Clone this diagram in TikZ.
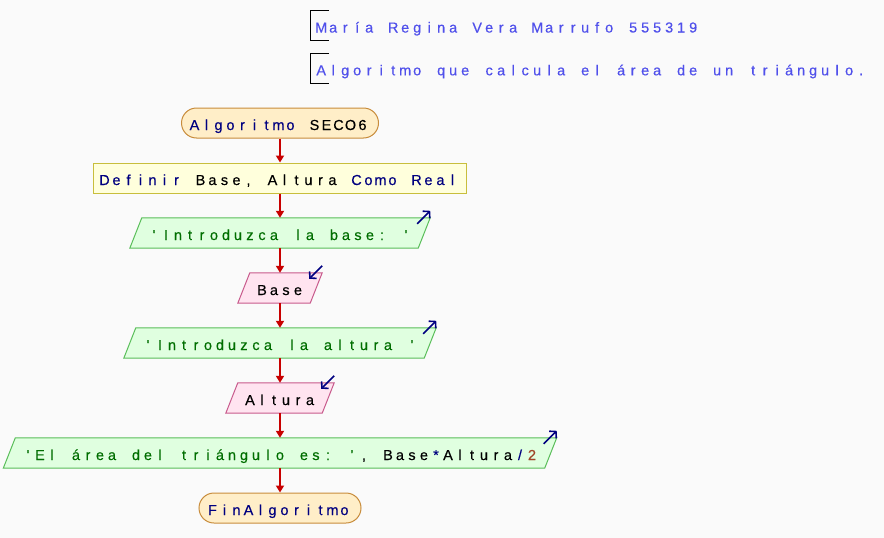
\documentclass[tikz,border=0pt]{standalone}
\usepackage{fontspec}
\usetikzlibrary{arrows.meta,backgrounds}
\newfontfamily\psfont[Ligatures=TeXOff,FakeBold=0.4]{Liberation Sans}
\newlength\pscell \setlength\pscell{12pt}
\ExplSyntaxOn
\NewDocumentCommand\pstxt{m}{\str_map_inline:nn {#1}{\makebox[\pscell][c]{##1}}}
\ExplSyntaxOff
\definecolor{bgc}{RGB}{250,250,250}
\definecolor{kw}{RGB}{0,0,128}
\definecolor{hdr}{RGB}{80,80,235}
\definecolor{strc}{RGB}{0,110,0}
\definecolor{numc}{RGB}{160,70,40}
\definecolor{flowc}{RGB}{200,0,0}
\definecolor{termf}{RGB}{255,238,200}
\definecolor{termd}{RGB}{200,140,60}
\definecolor{deff}{RGB}{255,255,220}
\definecolor{defd}{RGB}{200,190,60}
\definecolor{outf}{RGB}{224,255,224}
\definecolor{outd}{RGB}{90,190,90}
\definecolor{inf}{RGB}{255,228,240}
\definecolor{ind}{RGB}{200,90,140}
\newcommand\paral[2]{\path[#2] ([xshift=6pt]#1.north west) -- ([xshift=6pt]#1.north east) -- ([xshift=-6pt]#1.south east) -- ([xshift=-6pt]#1.south west) -- cycle;}
\tikzset{
  txt/.style={font=\psfont\fontsize{14.5}{16}\selectfont, inner sep=0pt, text height=16.5pt, text depth=2.5pt, minimum height=30pt},
  term/.style={txt, draw=termd, fill=termf, line width=1pt, rounded corners=15pt},
  defbox/.style={txt, draw=defd, fill=deff, line width=1pt},
  parbox/.style={txt},
  outshape/.style={draw=outd, fill=outf, line width=1pt},
  inshape/.style={draw=ind, fill=inf, line width=1pt},
  flow/.style={draw=flowc, line width=2pt, -{Triangle[length=7pt,width=8pt]}},
  icon/.style={draw=kw, line width=1.6pt, -{Straight Barb[length=4.5pt,width=10pt]}},
  brack/.style={draw=black, line width=1.2pt},
}
\begin{document}
\begin{tikzpicture}[x=1pt,y=-1pt]
\useasboundingbox (0,0) rectangle (884,538);
\begin{scope}[on background layer]
\fill[bgc] (0,0) rectangle (884,538);
\end{scope}

% header
\node[txt, anchor=west, text=hdr] (h1) at (315,25.5) {\pstxt{María Regina Vera Marrufo 555319}};
\node[txt, anchor=west, text=hdr] (h2) at (315,68.3) {\pstxt{Algoritmo que calcula el área de un triángulo.}};
\draw[brack] ([xshift=14pt]h1.north west) -- ([xshift=-4.3pt]h1.north west) -- ([xshift=-4.3pt]h1.south west) -- ([xshift=14pt]h1.south west);
\draw[brack] ([xshift=14pt]h2.north west) -- ([xshift=-4.3pt]h2.north west) -- ([xshift=-4.3pt]h2.south west) -- ([xshift=14pt]h2.south west);

% flowchart
\node[term, minimum width=197pt] (start) at (280,123) {\textcolor{kw}{\pstxt{Algoritmo }}\pstxt{SECO6}\kern3pt};
\node[defbox, minimum width=373pt] (def) at (280,178) {\textcolor{kw}{\pstxt{Definir }}\pstxt{Base, Altura }\textcolor{kw}{\pstxt{Como Real}}\kern3pt};
\node[parbox, minimum width=288pt, text=strc] (o1) at (280,233) {\pstxt{'Introduzca la base: '}};
\node[parbox, minimum width=72pt] (base) at (280,288) {\pstxt{Base}};
\node[parbox, minimum width=300pt, text=strc] (o2) at (280,343) {\pstxt{'Introduzca la altura '}};
\node[parbox, minimum width=96pt] (alt) at (280,398) {\pstxt{Altura}};
\node[parbox, minimum width=541pt] (o3) at (280,453) {\textcolor{strc}{\pstxt{'El área del triángulo es: '}}\pstxt{, Base}\textcolor{kw}{\pstxt{*}}\pstxt{Altura}\textcolor{kw}{\pstxt{/}}\textcolor{numc}{\pstxt{2}}};
\node[term, minimum width=162pt] (fin) at (280,508) {\textcolor{kw}{\pstxt{FinAlgoritmo}}\kern3pt};

\begin{scope}[on background layer]
\paral{o1}{outshape}
\paral{o2}{outshape}
\paral{o3}{outshape}
\paral{base}{inshape}
\paral{alt}{inshape}
\end{scope}

% connectors
\draw[flow] (start) -- (def);
\draw[flow] (def) -- (o1);
\draw[flow] (o1) -- (base);
\draw[flow] (base) -- (o2);
\draw[flow] (o2) -- (alt);
\draw[flow] (alt) -- (o3);
\draw[flow] (o3) -- (fin);

% io icons
\draw[icon] ([shift={(-7,6)}]o1.north east) -- ([shift={(6,-7)}]o1.north east);
\draw[icon] ([shift={(-7,6)}]o2.north east) -- ([shift={(6,-7)}]o2.north east);
\draw[icon] ([shift={(-7,6)}]o3.north east) -- ([shift={(6,-7)}]o3.north east);
\draw[icon] ([shift={(6,-7)}]base.north east) -- ([shift={(-7,6)}]base.north east);
\draw[icon] ([shift={(6,-7)}]alt.north east) -- ([shift={(-7,6)}]alt.north east);
\end{tikzpicture}
\end{document}
